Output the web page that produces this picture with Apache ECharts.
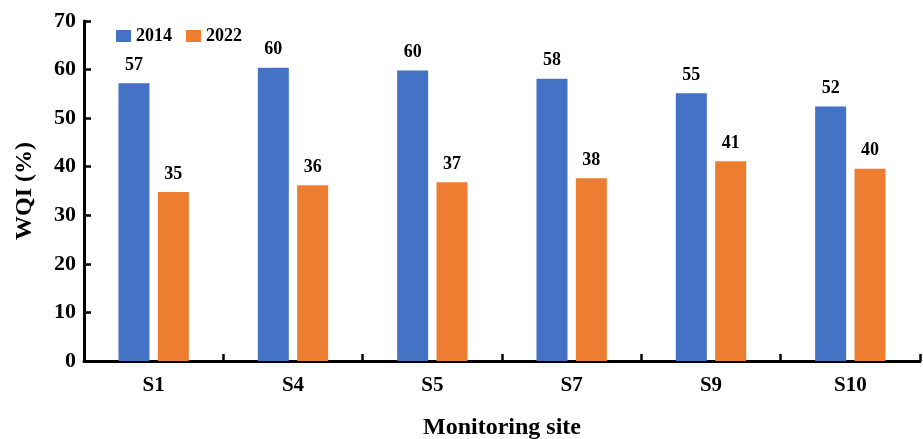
<!DOCTYPE html>
<html>
<head>
<meta charset="utf-8">
<script src="https://cdn.jsdelivr.net/npm/echarts@6/dist/echarts.min.js"></script>
<style>
  html, body { margin: 0; padding: 0; background: #ffffff; }
  #chart { width: 923px; height: 439px; }
</style>
</head>
<body>
<div id="chart"></div>
<script>
// Water quality index by monitoring site, 2014 vs 2022
const sites = ['S1', 'S4', 'S5', 'S7', 'S9', 'S10'];
const wqi2014 = [57.2, 60.4, 59.8, 58.1, 55.1, 52.4];
const wqi2022 = [34.8, 36.2, 36.8, 37.6, 41.1, 39.6];
const yTicks = [0, 10, 20, 30, 40, 50, 60, 70];

const FONT = '"Liberation Serif", "Times New Roman", serif';

const valueLabel = {
  show: true,
  position: 'top',
  distance: 9,
  color: '#000',
  fontFamily: FONT,
  fontWeight: 'bold',
  fontSize: 18,
  formatter: p => Math.round(p.value).toString()
};

const chart = echarts.init(document.getElementById('chart'), null, { renderer: 'canvas' });
chart.setOption({
  animation: false,
  backgroundColor: '#ffffff',
  grid: { left: 84, right: 3, top: 21, bottom: 78, containLabel: false, outerBoundsMode: 'none' },
  legend: {
    left: 111,
    top: 22,
    itemWidth: 15,
    itemHeight: 12,
    itemGap: 14,
    icon: 'rect',
    textStyle: { fontFamily: FONT, fontWeight: 'bold', fontSize: 18, color: '#000', padding: [2, 0, 0, 0] },
    data: ['2014', '2022']
  },
  xAxis: {
    type: 'category',
    data: sites,
    boundaryGap: true,
    name: 'Monitoring site',
    nameLocation: 'middle',
    nameGap: 55,
    nameTextStyle: { fontFamily: FONT, fontWeight: 'bold', fontSize: 24, color: '#000' },
    axisLine: { lineStyle: { color: '#000', width: 3 } },
    axisTick: { show: true, inside: true, length: 7, lineStyle: { color: '#000', width: 2.5 } },
    axisLabel: { fontFamily: FONT, fontWeight: 'bold', fontSize: 21, color: '#000', margin: 14 }
  },
  yAxis: {
    type: 'value',
    min: yTicks[0],
    max: yTicks[yTicks.length - 1],
    interval: yTicks[1] - yTicks[0],
    name: 'WQI (%)',
    nameLocation: 'middle',
    nameGap: 47,
    nameRotate: 90,
    nameTextStyle: { fontFamily: FONT, fontWeight: 'bold', fontSize: 24, color: '#000' },
    splitLine: { show: false },
    axisLine: { show: true, lineStyle: { color: '#000', width: 3 } },
    axisTick: { show: true, inside: true, length: 7, lineStyle: { color: '#000', width: 2.5 } },
    axisLabel: { fontFamily: FONT, fontWeight: 'bold', fontSize: 22, color: '#000', margin: 8 }
  },
  series: [
    {
      name: '2014',
      type: 'bar',
      data: wqi2014,
      barWidth: 31,
      barGap: '27%',
      itemStyle: { color: '#4472C4' },
      label: valueLabel
    },
    {
      name: '2022',
      type: 'bar',
      data: wqi2022,
      barWidth: 31,
      itemStyle: { color: '#ED7D31' },
      label: valueLabel
    }
  ]
});
</script>
</body>
</html>
